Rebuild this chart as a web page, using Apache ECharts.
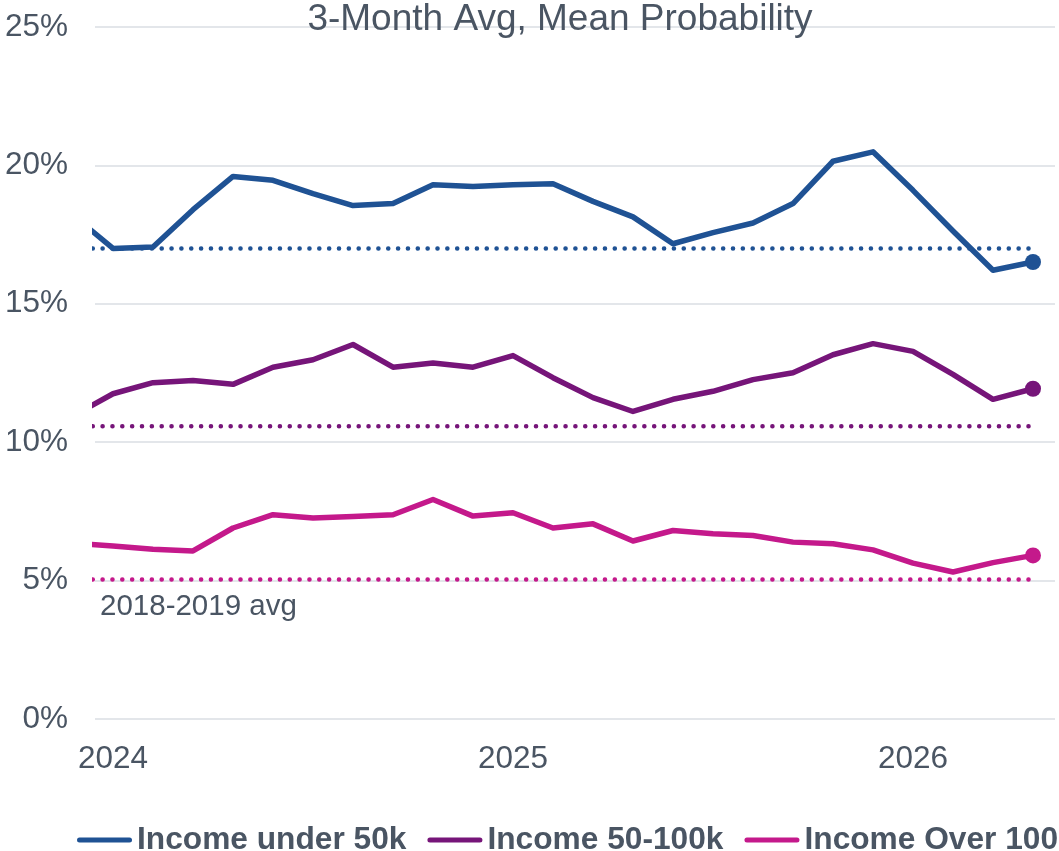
<!DOCTYPE html>
<html>
<head>
<meta charset="utf-8">
<script src="https://cdn.jsdelivr.net/npm/echarts@6/dist/echarts.min.js"></script>
<style>
  html, body { margin: 0; padding: 0; background: #ffffff; }
  #chart { width: 1059px; height: 851px; }
</style>
</head>
<body>
<div id="chart"></div>
<script>
// ---- Data ----
// x position of each observation (period index; 0 = start of 2024, 10 = 2025, 20 = 2026)
var periods = [-1, 0, 1, 2, 3, 4, 5, 6, 7, 8, 9, 10, 11, 12, 13, 14, 15, 16, 17, 18, 19, 20, 21, 22, 23];

var incomeUnder50k = [18.2, 17.0, 17.05, 18.4, 19.6, 19.46, 18.98, 18.55, 18.62, 19.3, 19.24, 19.3, 19.34, 18.7, 18.14, 17.17, 17.57, 17.92, 18.62, 20.15, 20.49, 19.1, 17.63, 16.21, 16.51];
var income50to100k = [10.95, 11.75, 12.15, 12.23, 12.09, 12.71, 12.98, 13.53, 12.71, 12.86, 12.71, 13.13, 12.33, 11.61, 11.11, 11.55, 11.84, 12.26, 12.51, 13.16, 13.56, 13.28, 12.45, 11.55, 11.93];
var incomeOver100k = [6.36, 6.25, 6.13, 6.07, 6.9, 7.38, 7.26, 7.32, 7.38, 7.93, 7.33, 7.45, 6.9, 7.05, 6.43, 6.81, 6.69, 6.63, 6.39, 6.33, 6.11, 5.63, 5.31, 5.65, 5.91];

// 2018-2019 averages
var avgUnder50k = 17.0;
var avg50to100k = 10.58;
var avgOver100k = 5.04;

var seriesNames = ['Income under 50k', 'Income 50-100k', 'Income Over 100k'];
var xTickValues = [0, 10, 20];
var xTickLabels = ['2024', '2025', '2026'];
var yTickLabels = ['0%', '5%', '10%', '15%', '20%', '25%'];

var titleText = '3-Month Avg, Mean Probability';
var annotationText = '2018-2019 avg';

// ---- Styles ----
var colors = ['#1f5294', '#761579', '#c4198b'];
var textColor = '#4a5563';
var fontFamily = '"Liberation Sans", Arial, sans-serif';

function pairs(vals) {
  return periods.map(function (x, i) { return [x, vals[i]]; });
}
function avgPairs(v) {
  return [[periods[0], v], [periods[periods.length - 1], v]];
}
var lastIndex = periods.length - 1;

function mainSeries(name, vals, color) {
  return {
    name: name,
    type: 'line',
    data: pairs(vals),
    smooth: false,
    showSymbol: true,
    showAllSymbol: true,
    symbol: 'circle',
    symbolSize: function (v, p) { return p.dataIndex === lastIndex ? 16 : 0; },
    itemStyle: { color: color },
    lineStyle: { color: color, width: 5.5, join: 'round' },
    z: 3,
    silent: true
  };
}
function avgSeries(name, v, color) {
  return {
    name: name,
    type: 'line',
    data: avgPairs(v),
    symbol: 'none',
    lineStyle: { color: color, width: 4.5, type: [0.1, 9.75], cap: 'round' },
    z: 2,
    silent: true
  };
}

var chart = echarts.init(document.getElementById('chart'), null, { renderer: 'canvas' });

var legendIcon = 'path://M2.5,0 L52.5,0 A2.5,2.5 0 0 1 52.5,5 L2.5,5 A2.5,2.5 0 0 1 2.5,0 Z';

chart.setOption({
  animation: false,
  backgroundColor: '#ffffff',
  color: colors,
  title: {
    text: titleText,
    left: 555,
    textAlign: 'center',
    top: -4,
    textStyle: { fontFamily: fontFamily, fontSize: 37, fontWeight: 'normal', color: textColor }
  },
  grid: { left: 95, right: 4, top: 27, bottom: 132, containLabel: false },
  xAxis: {
    type: 'value',
    min: -0.45,
    max: 23.55,
    axisLine: { show: false },
    axisTick: { show: false },
    splitLine: { show: false },
    axisLabel: {
      customValues: xTickValues,
      formatter: function (v) { var k = xTickValues.indexOf(v); return k >= 0 ? xTickLabels[k] : ''; },
      fontFamily: fontFamily,
      fontSize: 31.5,
      color: textColor,
      margin: 24
    }
  },
  yAxis: {
    type: 'value',
    min: 0,
    max: 25,
    interval: 5,
    axisLine: { show: false },
    axisTick: { show: false },
    splitLine: { show: true, lineStyle: { color: '#e3e6ea', width: 2 } },
    axisLabel: {
      formatter: function (v) { return yTickLabels[Math.round(v / 5)]; },
      fontFamily: fontFamily,
      fontSize: 31.5,
      color: textColor,
      margin: 27
    }
  },
  legend: {
    data: seriesNames,
    left: 72,
    top: 819,
    width: 1400,
    orient: 'horizontal',
    icon: legendIcon,
    itemWidth: 55,
    itemHeight: 5,
    itemGap: 21,
    selectedMode: false,
    textStyle: { fontFamily: fontFamily, fontSize: 31.7, fontWeight: 'bold', color: textColor }
  },
  graphic: [{
    type: 'text',
    left: 100,
    top: 592,
    style: { text: annotationText, fontFamily: fontFamily, fontSize: 29.5, fill: textColor }
  }],
  series: [
    avgSeries('avg1', avgUnder50k, colors[0]),
    avgSeries('avg2', avg50to100k, colors[1]),
    avgSeries('avg3', avgOver100k, colors[2]),
    mainSeries(seriesNames[0], incomeUnder50k, colors[0]),
    mainSeries(seriesNames[1], income50to100k, colors[1]),
    mainSeries(seriesNames[2], incomeOver100k, colors[2])
  ]
});
</script>
</body>
</html>
